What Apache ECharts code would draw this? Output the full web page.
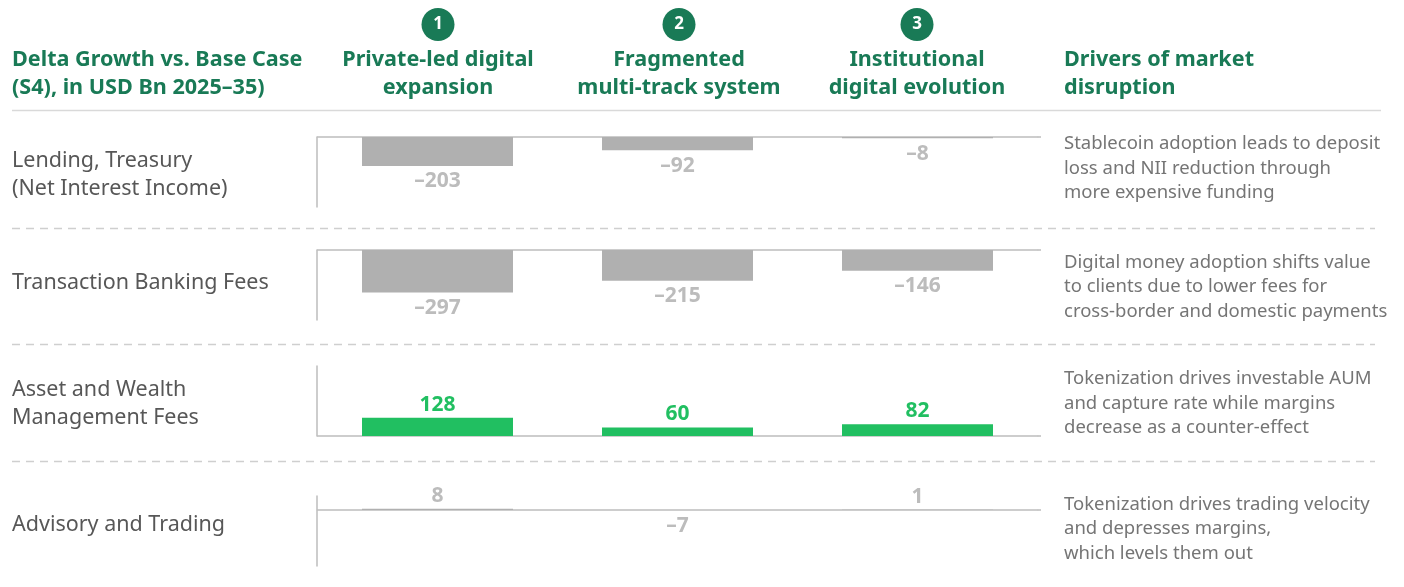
<!DOCTYPE html>
<html><head><meta charset="utf-8">
<style>html,body{margin:0;padding:0;background:#fff}#c{width:1404px;height:587px}</style>
<script src="https://cdn.jsdelivr.net/npm/echarts@6/dist/echarts.min.js"></script>
</head><body><div id="c"></div>
<script>
const scenarios = ["Private-led digital\nexpansion","Fragmented\nmulti-track system","Institutional\ndigital evolution"];
const scenarioNumbers = ["1","2","3"];
const cornerTitle = "Delta Growth vs. Base Case\n(S4), in USD Bn 2025–35)";
const driversTitle = "Drivers of market\ndisruption";
const rowLabels = ["Lending, Treasury\n(Net Interest Income)","Transaction Banking Fees","Asset and Wealth\nManagement Fees","Advisory and Trading"];
const drivers = [
 "Stablecoin adoption leads to deposit\nloss and NII reduction through\nmore expensive funding",
 "Digital money adoption shifts value\nto clients due to lower fees for\ncross-border and domestic payments",
 "Tokenization drives investable AUM\nand capture rate while margins\ndecrease as a counter-effect",
 "Tokenization drives trading velocity\nand depresses margins,\nwhich levels them out"];
const lending = [-203,-92,-8];
const transaction = [-297,-215,-146];
const assetWealth = [128,60,82];
const advisory = [8,-7,1];

const FONT = '"Noto Sans"';
const GREEN='#197a56', GREY='#b0b0b0', LABELGREY='#bcbcbc', POS='#21bf61', AXIS='#bdbdbd';
const rows = [
 {data:lending, top:137, min:-490, max:0, color:GREY, lab:LABELGREY},
 {data:transaction, top:250, min:-490, max:0, color:GREY, lab:LABELGREY},
 {data:assetWealth, top:366, min:0, max:490, color:POS, lab:POS},
 {data:advisory, top:496, min:-392, max:98, color:GREY, lab:LABELGREY, negColor:'transparent'}
];
const L=317.5, W=720, H=70;
const fmt = v => (v<0?'–'+Math.abs(v):''+v);
const grid=[],xAxis=[],yAxis=[],series=[];
rows.forEach((r,i)=>{
  grid.push({left:L,top:r.top,width:W,height:H});
  xAxis.push({type:'category',gridIndex:i,data:scenarios,axisTick:{show:false},axisLabel:{show:false},
    axisLine:{show:true,onZero:true,lineStyle:{color:AXIS,width:1.5}}});
  yAxis.push({type:'value',gridIndex:i,min:r.min,max:r.max,offset:1,splitLine:{show:false},axisTick:{show:false},axisLabel:{show:false},
    axisLine:{show:true,onZero:false,lineStyle:{color:AXIS,width:1.5}}});
  series.push({type:'bar',xAxisIndex:i,yAxisIndex:i,barWidth:151,itemStyle:{color:r.color},silent:true,
    label:{show:true,fontFamily:FONT,fontSize:21,fontWeight:700,color:r.lab,formatter:p=>fmt(p.value)},
    data:r.data.map(v=>({value:v,
      itemStyle:{color:(v<0&&r.negColor)||r.color},
      label:{position:v<0?'bottom':'top',distance:v<0?5:2.5}}))});
});
const txt=(x,y,t,o)=>({type:'text',x,y,silent:true,style:Object.assign({text:t,fontFamily:FONT,verticalAlign:'middle'},o)});
const head={fill:GREEN,fontSize:21.6,fontWeight:700,lineHeight:28};
const g=[];
const centers=[438,679,917];
g.push(txt(12,73.5,cornerTitle,Object.assign({},head,{align:'left'})));
scenarios.forEach((s,i)=>{
  g.push(txt(centers[i],73.5,s,Object.assign({},head,{align:'center'})));
  g.push({type:'circle',shape:{cx:centers[i],cy:24.5,r:16.5},style:{fill:GREEN},silent:true});
  g.push(txt(centers[i],24.5,scenarioNumbers[i],{align:'center',fill:'#fff',fontSize:17,fontWeight:700}));
});
g.push(txt(1064,73.5,driversTitle,Object.assign({},head,{align:'left'})));
g.push({type:'line',shape:{x1:12,y1:110.5,x2:1381,y2:110.5},style:{stroke:'#d9d9d9',lineWidth:1.5},silent:true});
[228,344,461].forEach(y=>g.push({type:'line',shape:{x1:12,y1:y+.5,x2:1375,y2:y+.5},style:{stroke:'#cfcfcf',lineWidth:1.3,lineDash:[8,6]},silent:true}));
const labelY=[175,283,404,525], driverY=[168.5,287,403.5,529];
rowLabels.forEach((t,i)=>g.push(txt(12,labelY[i],t,{align:'left',fill:'#575757',fontSize:21.5,lineHeight:27.5})));
drivers.forEach((t,i)=>g.push(txt(1064,driverY[i],t,{align:'left',fill:'#757575',fontSize:18.5,lineHeight:24.7})));
rows.forEach((r,i)=>{
  const zy=r.top+H*r.max/(r.max-r.min);
  g.push({type:'line',shape:{x1:L+W,y1:zy,x2:1041,y2:zy},style:{stroke:AXIS,lineWidth:1.5},silent:true});
});
const chart=echarts.init(document.getElementById('c'),null,{renderer:'canvas'});
chart.setOption({animation:false,backgroundColor:'#fff',grid,xAxis,yAxis,series,graphic:{elements:g}});
</script></body></html>
